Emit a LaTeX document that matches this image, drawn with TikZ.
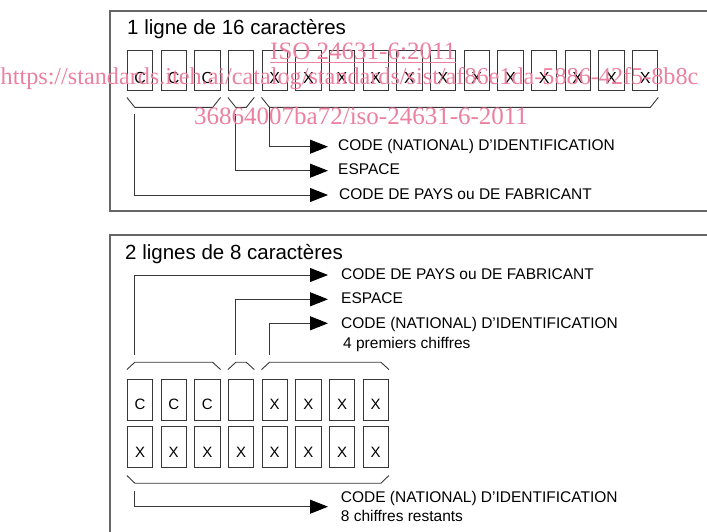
\documentclass[tikz,border=0pt]{standalone}
\usepackage{fontspec}
\setmainfont{Liberation Sans}
\newfontfamily\wmfont{Liberation Serif}
\usetikzlibrary{arrows.meta,calc}
\definecolor{wm}{RGB}{236,128,160}
\definecolor{ln}{RGB}{55,55,55}
\begin{document}
\begin{tikzpicture}[x=1pt,y=-1pt,
  frame/.style={draw=black!60, line width=1.2pt},
  cell/.style={draw=ln, line width=0.9pt, minimum width=25.5pt, minimum height=40.7pt,
    inner sep=0pt, font=\fontsize{16}{16}\selectfont, text height=26pt, text depth=0pt},
  cellb/.style={cell, font=\fontsize{15}{15}\selectfont, text height=20.6pt},
  brc/.style={draw=ln, line width=0.9pt},
  arr/.style={draw=ln, line width=0.9pt, -{Triangle[length=18pt,width=14pt,color=black]}},
  lab/.style={anchor=west, inner sep=0pt, font=\fontsize{15.5}{15.5}\selectfont,
    text height=11pt, text depth=0pt},
  ttl/.style={anchor=west, inner sep=0pt, font=\fontsize{20.5}{20.5}\selectfont,
    text height=14.7pt, text depth=0pt},
  wmk/.style={anchor=base west, inner sep=0pt, text=wm, font=\wmfont\fontsize{25}{25}\selectfont}]
\useasboundingbox (0,0) rectangle (707,532);

% frames
\draw[frame] (707,11) -- (110,11) -- (110,211) -- (707,211);
\draw[frame] (707,235) -- (110,235) -- (110,532);

% ---------- top panel ----------
\node[ttl] (t1) at (127,27.3) {1 ligne de 16 caractères};
\foreach \i/\t in {1/C,2/C,3/C,4/{},5/X,6/X,7/X,8/X,9/X,10/X,11/X,12/X,13/X,14/X,15/X,16/X}
  \node[cell] (b\i) at ({140.05+(\i-1)*33.67},70.35) {\t};

\draw[brc] ([shift={(0,6.3)}]b1.south west) -- ([shift={(8,16.3)}]b1.south west)
  -- ([shift={(-8,16.3)}]b3.south east) -- ([shift={(0,6.3)}]b3.south east);
\draw[brc] ([shift={(0,6.3)}]b4.south west) -- ([shift={(8,16.3)}]b4.south west)
  -- ([shift={(-8,16.3)}]b4.south east) -- ([shift={(0,6.3)}]b4.south east);
\draw[brc] ([shift={(0,6.3)}]b5.south west) -- ([shift={(8,16.3)}]b5.south west)
  -- ([shift={(-8,16.3)}]b16.south east) -- ([shift={(0,6.3)}]b16.south east);

\coordinate (k1) at ([shift={(8,23.3)}]b1.south west);
\coordinate (k2) at ([shift={(8,23.3)}]b4.south west);
\coordinate (k3) at ([shift={(8,17)}]b5.south west);

\node[lab] (tn) at (338,145) {CODE (NATIONAL) D’IDENTIFICATION};
\node[lab] (te) at (338,169.3) {ESPACE};
\node[lab] (tp) at (339,194) {CODE DE PAYS ou DE FABRICANT};

\draw[arr] (k3) |- ([shift={(-10,1.7)}]tn.west);
\draw[arr] (k2) |- ([shift={(-10,1.4)}]te.west);
\draw[arr] (k1) |- ([shift={(-11,1)}]tp.west);

% ---------- bottom panel ----------
\node[ttl] (t2) at (125,252.5) {2 lignes de 8 caractères};
\foreach \i/\t in {1/C,2/C,3/C,4/{},5/X,6/X,7/X,8/X}
  \node[cellb] (c\i) at ({140.05+(\i-1)*33.67},399.65) {\t};
\foreach \i in {1,...,8}
  \node[cellb] (d\i) at ({140.05+(\i-1)*33.67},447) {X};

% braces above first row
\draw[brc] ([shift={(0,-9.3)}]c1.north west) -- ([shift={(8,-16.6)}]c1.north west)
  -- ([shift={(-8,-16.6)}]c3.north east) -- ([shift={(0,-9.3)}]c3.north east);
\draw[brc] ([shift={(0,-9.3)}]c4.north west) -- ([shift={(8,-16.6)}]c4.north west)
  -- ([shift={(-8,-16.6)}]c4.north east) -- ([shift={(0,-9.3)}]c4.north east);
\draw[brc] ([shift={(0,-9.3)}]c5.north west) -- ([shift={(8,-16.6)}]c5.north west)
  -- ([shift={(-8,-16.6)}]c8.north east) -- ([shift={(0,-9.3)}]c8.north east);

% brace below second row
\draw[brc] ([shift={(0,7.7)}]d1.south west) -- ([shift={(8,15.4)}]d1.south west)
  -- ([shift={(-8,15.4)}]d8.south east) -- ([shift={(0,7.7)}]d8.south east);

\coordinate (m1) at ([shift={(8,-24.3)}]c1.north west);
\coordinate (m2) at ([shift={(8,-24.3)}]c4.north west);
\coordinate (m3) at ([shift={(8,-24.3)}]c5.north west);
\coordinate (m4) at ([shift={(8,22.7)}]d1.south west);

\node[lab] (lp) at (341,274.2) {CODE DE PAYS ou DE FABRICANT};
\node[lab] (le) at (341,298.3) {ESPACE};
\node[lab] (ln1) at (341,323.3) {CODE (NATIONAL) D’IDENTIFICATION};
\node[lab] (ln2) at (343,342.7) {4 premiers chiffres};
\node[lab] (lb1) at (340.7,496.7) {CODE (NATIONAL) D’IDENTIFICATION};
\node[lab] (lb2) at (340.7,515.7) {8 chiffres restants};

\draw[arr] (m1) |- ([shift={(-13,0.8)}]lp.west);
\draw[arr] (m2) |- ([shift={(-13,1)}]le.west);
\draw[arr] (m3) |- ([shift={(-13,0)}]ln1.west);
\draw[arr] (m4) |- ($(lb1.west)!0.5!(lb2.west)+(-12.7,0.5)$);

% ---------- watermark ----------
\node[wmk] (w1) at (270,60) {\underline{ISO 24631-6:2011}};
\node[wmk, font=\wmfont\fontsize{24.2}{24.2}\selectfont] (w2) at (0.5,85) {https://standards.iteh.ai/catalog/standards/sist/af86e1da-5886-42f5-8b8c};
\node[wmk] (w3) at (194,125) {36864007ba72/iso-24631-6-2011};
\end{tikzpicture}
\end{document}
